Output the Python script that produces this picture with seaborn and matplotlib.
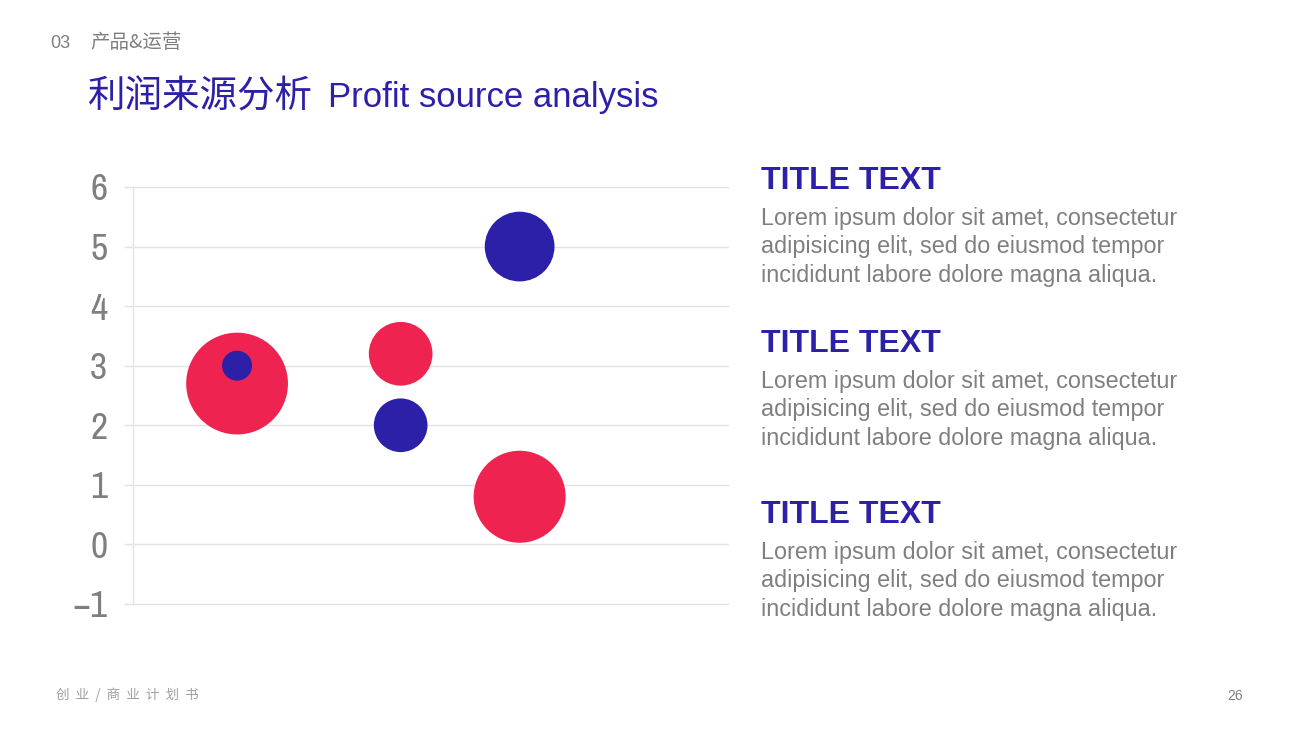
import pandas as pd
import matplotlib.pyplot as plt
from matplotlib import font_manager
import seaborn as sns

# Bubble data
x_pos = [0.7, 1.8, 2.6]
red_y = [2.7, 3.2, 0.8]
red_size = [11.5, 4.5, 9.4]
blue_y = [3.0, 2.0, 5.0]
blue_size = [1.0, 3.2, 5.4]
y_ticks = [-1, 0, 1, 2, 3, 4, 5, 6]

BLUE = '#2C20A8'
RED = '#EE2350'
GRAY = '#7F7F7F'
LINE = '#E3E3E3'

# red drawn first so the small blue bubble sits on top
df = pd.DataFrame({
    'x': x_pos + x_pos,
    'y': red_y + blue_y,
    'size': red_size + blue_size,
    'series': ['red'] * 3 + ['blue'] * 3,
})

sns.set_style('white')
plt.rcParams['font.family'] = ['Liberation Sans', 'Noto Sans CJK SC', 'DejaVu Sans']


def narrow_font(size):
    """Pick an upright condensed face for the tick labels if one is installed."""
    cands = [f for f in font_manager.fontManager.ttflist
             if f.style == 'normal' and f.weight in (400, 'normal', 'regular')]
    for f in cands:
        name = f.name.lower()
        if 'narrow' in name or 'condensed' in name:
            return font_manager.FontProperties(fname=f.fname, size=size)
    for f in cands:
        if str(f.stretch) in ('condensed', 'semi-condensed', 'extra-condensed', '75', '87.5'):
            return font_manager.FontProperties(fname=f.fname, size=size)
    return font_manager.FontProperties(family='Roboto', size=size)


fig = plt.figure(figsize=(12.96, 7.29), dpi=100)
ax = fig.add_axes([0.1026, 0.1715, 0.459, 0.572])

max_size = max(red_size + blue_size)
sns.scatterplot(data=df, x='x', y='y', hue='series', size='size',
                palette={'red': RED, 'blue': BLUE},
                sizes=(0, 467 * max_size), size_norm=(0, max_size),
                linewidth=0, alpha=1, legend=False, ax=ax, zorder=3)

ax.set_xlim(0, 4)
ax.set_ylim(-1, 6)
ax.set_yticks(y_ticks)
ax.set_yticklabels(['\u22121' if t < 0 else str(t) for t in y_ticks], color=GRAY)
tick_font = narrow_font(27)
for lab in ax.get_yticklabels():
    lab.set_fontproperties(tick_font)
ax.set_xticks([])
ax.set_xlabel('')
ax.set_ylabel('')
ax.yaxis.grid(True, color=LINE, linewidth=1)
for gl in ax.get_ygridlines():
    gl.set_clip_on(False)
ax.set_axisbelow(True)
ax.tick_params(axis='y', left=True, length=6.5, width=1, color=LINE, pad=12)
for side in ['top', 'right', 'bottom']:
    ax.spines[side].set_visible(False)
ax.spines['left'].set_color(LINE)
ax.spines['left'].set_linewidth(1)

# header
fig.text(50 / 1296, 1 - 43 / 729, '03', fontsize=13, color=GRAY, va='center')
fig.text(90 / 1296, 1 - 43 / 729, '产品&运营', fontsize=14, color=GRAY, va='center',
         family=['Noto Sans CJK SC'])
fig.text(88 / 1296, 1 - 97 / 729, '利润来源分析', fontsize=27.0,
         color=BLUE, va='center', family=['Noto Sans CJK SC'])
fig.text(328 / 1296, 1 - 98 / 729, 'Profit source analysis', fontsize=25,
         color=BLUE, va='center', family=['Liberation Sans'])

# right-hand text blocks
body = ('Lorem ipsum dolor sit amet, consectetur\n'
        'adipisicing elit, sed do eiusmod tempor\n'
        'incididunt labore dolore magna aliqua.')
for ty in [181, 344, 515]:
    fig.text(761 / 1296, 1 - ty / 729, 'TITLE TEXT', fontsize=23, fontweight='bold',
             color=BLUE, va='center')
    fig.text(761 / 1296, 1 - (ty + 26) / 729, body, fontsize=16.8, color=GRAY,
             va='top', linespacing=1.30)

# footer
fig.text(56 / 1296, 1 - 695 / 729, '创  业  /  商  业  计  划  书', fontsize=9.8, color='#A0A0A0',
         va='center', family=['Noto Sans CJK SC'])
fig.text(1243 / 1296, 1 - 696 / 729, '26', fontsize=10, color=GRAY, va='center', ha='right')

fig.savefig('out.png', dpi=100, facecolor='white')
